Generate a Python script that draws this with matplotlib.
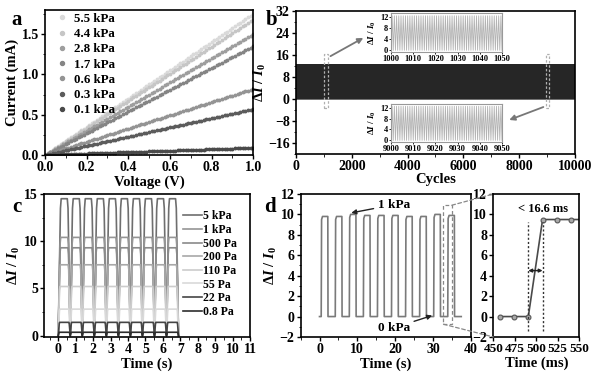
import numpy as np
import matplotlib
matplotlib.use('Agg')
import matplotlib.pyplot as plt
from matplotlib.patches import Rectangle, ConnectionPatch
from matplotlib.ticker import MultipleLocator

plt.rcParams['font.family'] = ['Liberation Serif', 'DejaVu Serif']
plt.rcParams['font.weight'] = 'bold'
plt.rcParams['axes.labelweight'] = 'bold'
plt.rcParams['mathtext.fontset'] = 'custom'
plt.rcParams['mathtext.it'] = 'Liberation Serif:italic:bold'
plt.rcParams['mathtext.rm'] = 'Liberation Serif:bold'
plt.rcParams['axes.linewidth'] = 1.2
plt.rcParams['xtick.major.width'] = 1.0
plt.rcParams['ytick.major.width'] = 1.0
plt.rcParams['xtick.labelsize'] = 10
plt.rcParams['ytick.labelsize'] = 10

# ---- panel a: I-V curves
labels_a = ['5.5 kPa', '4.4 kPa', '2.8 kPa', '1.7 kPa', '0.6 kPa', '0.3 kPa', '0.1 kPa']
current_at_1v = [1.75, 1.68, 1.50, 1.35, 0.82, 0.57, 0.09]
colors_a = ['#dadada', '#c6c6c6', '#9e9e9e', '#858585', '#949494', '#5c5c5c', '#4a4a4a']
sweep_v = np.linspace(0, 1, 81)

# ---- panel b: cycling test
n_cycles = 10000
cycle_low = 0.0
cycle_high = 12.5
zoom_start = [1000, 9000]

# ---- panel c: different pressures
labels_c = ['5 kPa', '1 kPa', '500 Pa', '200 Pa', '110 Pa', '55 Pa', '22 Pa', '0.8 Pa']
peak_c = [14.5, 10.4, 9.3, 7.5, 5.2, 2.8, 1.4, 0.35]
rise_c = [0.17, 0.14, 0.13, 0.12, 0.10, 0.09, 0.08, 0.06]
colors_c = ['#6e6e6e', '#959595', '#8a8a8a', '#a8a8a8', '#cccccc', '#d9d9d9', '#454545', '#2e2e2e']
pulse_start_c = [0.0, 0.69, 1.38, 2.07, 2.76, 3.45, 4.14, 4.83, 5.52, 6.21]
period_c = 0.69

# ---- panel d: 1 kPa square loading
on_times_d = [0.45, 4.17, 7.89, 11.61, 15.33, 19.05, 22.77, 26.49, 30.21, 33.93]
off_times_d = [2.2, 5.92, 9.64, 13.36, 17.08, 20.8, 24.52, 28.24, 31.96, 35.68]
levels_d = [9.8, 9.8, 10.0, 9.9, 9.9, 9.9, 9.8, 9.8, 10.0, 9.9]
end_time_d = 37.5
resp_ms = [457.5, 474.1, 490.7, 507.3, 523.9, 540.5, 557.1]
resp_val = [0, 0, 0, 9.5, 9.5, 9.5, 9.5]

fig = plt.figure(figsize=(6, 3.8), dpi=100)

def style(ax):
    ax.tick_params(direction='out', length=3, pad=1.5)
    ax.tick_params(which='minor', direction='out', length=1.8)

ylab = r'$ΔI\ /\ I_0$'

# a
ax_a = fig.add_axes([0.075, 0.592, 0.347, 0.382])
for lab, i1, c in zip(labels_a, current_at_1v, colors_a):
    ax_a.plot(sweep_v, i1 * sweep_v, 'o', ms=1.8, color=c, label=lab)
ax_a.set_xlim(0, 1)
ax_a.set_ylim(0, 1.8)
ax_a.xaxis.set_major_locator(MultipleLocator(0.2))
ax_a.xaxis.set_minor_locator(MultipleLocator(0.1))
ax_a.yaxis.set_major_locator(MultipleLocator(0.5))
ax_a.yaxis.set_minor_locator(MultipleLocator(0.25))
ax_a.yaxis.set_major_formatter(matplotlib.ticker.FormatStrFormatter('%.1f'))
ax_a.set_xlabel('Voltage (V)', fontsize=10.5, labelpad=1)
ax_a.set_ylabel('Current (mA)', fontsize=10.5, labelpad=2)
style(ax_a)
ax_a.legend(loc='upper left', frameon=False, fontsize=9.3, markerscale=1.6,
            handletextpad=0.4, labelspacing=0.25, borderaxespad=0.1,
            bbox_to_anchor=(0.02, 1.025), handlelength=1.0)

# b
ax_b = fig.add_axes([0.4933, 0.5947, 0.465, 0.3773])
cyc_x = np.arange(0, n_cycles, 0.5)
cyc_y = np.tile([cycle_low, cycle_high], n_cycles)
ax_b.plot(cyc_x, cyc_y, color='#262626', lw=0.6)
ax_b.set_xlim(0, 10000)
ax_b.set_ylim(-20, 32)
ax_b.xaxis.set_major_locator(MultipleLocator(2000))
ax_b.xaxis.set_minor_locator(MultipleLocator(1000))
ax_b.yaxis.set_major_locator(MultipleLocator(8))
ax_b.yaxis.set_minor_locator(MultipleLocator(4))
ax_b.set_xlabel('Cycles', fontsize=10.5, labelpad=0)
ax_b.set_ylabel(ylab, fontsize=10.5, labelpad=0)
style(ax_b)
for xs in [1020, 8950]:
    ax_b.add_patch(Rectangle((xs, -3.2), 130, 19.5, fill=False, ec='#b0b0b0',
                             lw=0.9, ls=(0, (2, 1.5)), zorder=5))
ax_b.annotate('', xy=(2500, 22.6), xytext=(1150, 15.0),
              arrowprops=dict(arrowstyle='-|>', color='#777777', lw=1.3,
                              mutation_scale=8))
ax_b.annotate('', xy=(7550, -8.0), xytext=(8960, -2.6),
              arrowprops=dict(arrowstyle='-|>', color='#777777', lw=1.3,
                              mutation_scale=8))

inset_pos = [[0.6517, 0.8632, 0.185, 0.1026], [0.6517, 0.6263, 0.185, 0.1013]]
for x0, pos in zip(zoom_start, inset_pos):
    ax_i = fig.add_axes(pos)
    ix = np.arange(x0, x0 + 50.01, 0.5)
    iy = np.tile([cycle_low, cycle_high], len(ix) // 2 + 1)[:len(ix)]
    ax_i.plot(ix, iy, color='#b3b3b3', lw=0.6)
    ax_i.set_xlim(x0, x0 + 50)
    ax_i.set_ylim(-0.6, 13.5)
    ax_i.xaxis.set_major_locator(MultipleLocator(10))
    ax_i.yaxis.set_major_locator(MultipleLocator(4))
    ax_i.tick_params(labelsize=6, length=1.5, pad=0.5, width=0.6)
    for sp in ax_i.spines.values():
        sp.set_color('#999999')
        sp.set_linewidth(0.8)
    ax_i.set_ylabel(ylab, fontsize=6.5, labelpad=1)

# c
ax_c = fig.add_axes([0.0738, 0.1132, 0.3429, 0.3763])
for lab, pk, r, c in zip(labels_c, peak_c, rise_c, colors_c):
    tx, ty = [], []
    for t0 in pulse_start_c:
        tx += [t0, t0 + r * 0.75, t0 + r, t0 + period_c - r, t0 + period_c - r * 0.75, t0 + period_c]
        ty += [0, pk * 0.93, pk, pk, pk * 0.93, 0]
    ax_c.plot(tx, ty, color=c, lw=1.2, label=lab)
ax_c.set_xlim(-0.8, 11)
ax_c.set_ylim(-0.15, 15)
ax_c.xaxis.set_major_locator(MultipleLocator(1))
ax_c.xaxis.set_minor_locator(MultipleLocator(0.5))
ax_c.yaxis.set_major_locator(MultipleLocator(5))
ax_c.yaxis.set_minor_locator(MultipleLocator(2.5))
ax_c.set_xlabel('Time (s)', fontsize=10.5, labelpad=1)
ax_c.set_ylabel(ylab, fontsize=10.5, labelpad=2)
style(ax_c)
ax_c.legend(loc='upper right', frameon=False, fontsize=8.5, handlelength=1.6,
            handletextpad=0.1, labelspacing=0.14, bbox_to_anchor=(0.99, 0.96))

# d main
ax_d = fig.add_axes([0.501, 0.1132, 0.2835, 0.3763])
dx, dy = [0.0], [0.0]
for ton, toff, lv in zip(on_times_d, off_times_d, levels_d):
    dx += [ton, ton + 0.1, ton + 0.35, toff, toff + 0.05]
    dy += [0, lv - 0.3, lv, lv, 0]
dx.append(end_time_d)
dy.append(0)
ax_d.plot(dx, dy, color='#7a7a7a', lw=1.2)
ax_d.set_xlim(-5, 40)
ax_d.set_ylim(-2, 12)
ax_d.xaxis.set_major_locator(MultipleLocator(10))
ax_d.xaxis.set_minor_locator(MultipleLocator(5))
ax_d.yaxis.set_major_locator(MultipleLocator(2))
ax_d.yaxis.set_minor_locator(MultipleLocator(1))
ax_d.set_xlabel('Time (s)', fontsize=10.5, labelpad=1)
ax_d.set_ylabel(ylab, fontsize=10.5, labelpad=0)
style(ax_d)
ax_d.annotate('1 kPa', xy=(8.4, 10.15), xytext=(15.4, 10.95), fontsize=9.5,
              ha='left', va='center',
              arrowprops=dict(arrowstyle='-|>', color='#222222', lw=1.0,
                              mutation_scale=7, shrinkA=1, shrinkB=0))
ax_d.annotate('0 kPa', xy=(29.8, 0.1), xytext=(15.4, -1.1), fontsize=9.5,
              ha='left', va='center',
              arrowprops=dict(arrowstyle='-|>', color='#222222', lw=1.0,
                              mutation_scale=7, shrinkA=1, shrinkB=0))
ax_d.add_patch(Rectangle((32.8, -0.75), 2.2, 11.65, fill=False, ec='#888888',
                         lw=0.9, ls=(0, (3, 2))))

# d zoom
ax_e = fig.add_axes([0.8222, 0.1132, 0.1433, 0.3763])
ax_e.plot(resp_ms, resp_val, '-o', color='#4a4a4a', lw=1.2, ms=3.5,
          mfc='#a8a8a8', mec='#555555', mew=0.8)
ax_e.set_xlim(450, 550)
ax_e.set_ylim(-2, 12)
ax_e.xaxis.set_major_locator(MultipleLocator(25))
ax_e.yaxis.set_major_locator(MultipleLocator(2))
ax_e.set_xlabel('Time (ms)', fontsize=10.5, labelpad=1)
style(ax_e)
ax_e.tick_params(axis='x', labelsize=9.5)
for xv in [resp_ms[2], resp_ms[3]]:
    ax_e.plot([xv, xv], [-1.4, 9.3], ls=(0, (1.5, 1.5)), color='#333333', lw=1.0)
ax_e.annotate('', xy=(resp_ms[2], 4.5), xytext=(resp_ms[3], 4.5),
              arrowprops=dict(arrowstyle='<|-|>', color='#222222', lw=1.0,
                              mutation_scale=5, shrinkA=0, shrinkB=0))
ax_e.text(508, 10.5, '< 16.6 ms', fontsize=9, ha='center', va='center')

for xyA, xyB in [((35.0, 10.9), (450, 12)), ((32.8, -0.75), (450, -2))]:
    fig.add_artist(ConnectionPatch(xyA=xyA, coordsA=ax_d.transData, xyB=xyB,
                                   coordsB=ax_e.transData, color='#888888',
                                   lw=0.9, ls=(0, (3, 2))))

for lab, x, y in [('a', 0.028, 0.947), ('b', 0.453, 0.947),
                  ('c', 0.028, 0.455), ('d', 0.45, 0.455)]:
    fig.text(x, y, lab, fontsize=15, fontweight='bold', ha='center', va='center')

fig.savefig('out.png', dpi=100)
